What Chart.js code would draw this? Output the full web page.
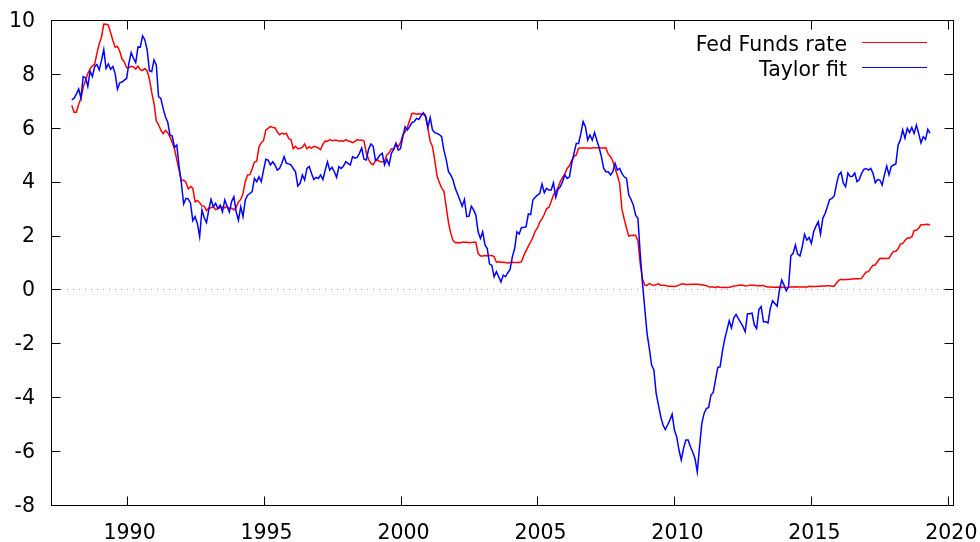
<!DOCTYPE html>
<html><head><meta charset="utf-8">
<script src="https://cdn.jsdelivr.net/npm/chart.js@4.4.1/dist/chart.umd.min.js"></script>
<style>html,body{margin:0;padding:0;background:#fff}#wrap{width:980px;height:542px}</style>
</head><body><div id="wrap"><canvas id="c" width="980" height="542"></canvas></div>
<script>
// Monthly series, January 1988 .. May 2019
const startYear = 1988;
const seriesNames = ['Fed Funds rate', 'Taylor fit'];
const seriesColors = ['#ff0000', '#0000ff'];

const fedFunds = [
 6.83,6.58,6.58,6.87,7.09,7.51,7.75,8.01,8.19,8.30,8.35,8.76,
 9.12,9.36,9.85,9.84,9.81,9.53,9.24,8.99,9.02,8.84,8.55,8.45,
 8.23,8.24,8.28,8.26,8.18,8.29,8.15,8.13,8.20,8.11,7.81,7.31,
 6.91,6.25,6.12,5.91,5.78,5.90,5.82,5.66,5.45,5.21,4.81,4.43,
 4.03,4.06,3.98,3.73,3.82,3.76,3.25,3.30,3.22,3.10,3.09,2.92,
 3.02,3.03,3.07,2.96,3.00,3.04,3.06,3.03,3.09,2.99,3.02,2.96,
 3.05,3.25,3.34,3.56,4.01,4.25,4.26,4.47,4.73,4.76,5.29,5.45,
 5.53,5.92,5.98,6.05,6.01,6.00,5.85,5.74,5.80,5.76,5.80,5.60,
 5.56,5.22,5.31,5.22,5.24,5.27,5.40,5.22,5.30,5.24,5.31,5.29,
 5.25,5.19,5.39,5.51,5.50,5.56,5.52,5.54,5.54,5.50,5.52,5.50,
 5.56,5.51,5.49,5.45,5.49,5.56,5.54,5.55,5.51,5.07,4.83,4.68,
 4.63,4.76,4.81,4.74,4.74,4.76,4.99,5.07,5.22,5.20,5.42,5.30,
 5.45,5.73,5.85,6.02,6.27,6.53,6.54,6.50,6.52,6.51,6.51,6.40,
 5.98,5.49,5.31,4.80,4.21,3.97,3.77,3.65,3.07,2.49,2.09,1.82,
 1.73,1.74,1.73,1.75,1.75,1.75,1.73,1.74,1.75,1.75,1.34,1.24,
 1.24,1.26,1.25,1.26,1.26,1.22,1.01,1.03,1.01,1.01,1.00,0.98,
 1.00,1.01,1.00,1.00,1.00,1.03,1.26,1.43,1.61,1.76,1.93,2.16,
 2.28,2.50,2.63,2.79,3.00,3.04,3.26,3.50,3.62,3.78,4.00,4.16,
 4.29,4.49,4.59,4.79,4.94,4.99,5.24,5.25,5.25,5.25,5.25,5.24,
 5.25,5.26,5.26,5.25,5.25,5.25,5.26,5.02,4.94,4.76,4.49,4.24,
 3.94,2.98,2.61,2.28,1.98,2.00,2.01,2.00,1.81,0.97,0.39,0.16,
 0.15,0.22,0.18,0.15,0.18,0.21,0.16,0.16,0.15,0.12,0.12,0.12,
 0.11,0.13,0.16,0.20,0.20,0.18,0.18,0.19,0.19,0.19,0.19,0.18,
 0.17,0.16,0.14,0.10,0.09,0.09,0.07,0.10,0.08,0.07,0.08,0.07,
 0.08,0.10,0.13,0.14,0.16,0.16,0.16,0.13,0.14,0.16,0.16,0.16,
 0.14,0.15,0.14,0.15,0.11,0.09,0.09,0.08,0.08,0.09,0.08,0.09,
 0.07,0.07,0.08,0.09,0.09,0.10,0.09,0.09,0.09,0.09,0.09,0.12,
 0.11,0.11,0.11,0.12,0.12,0.13,0.13,0.14,0.14,0.12,0.12,0.24,
 0.34,0.38,0.36,0.37,0.37,0.38,0.39,0.40,0.40,0.40,0.41,0.54,
 0.65,0.66,0.79,0.90,0.91,1.04,1.15,1.16,1.15,1.15,1.16,1.30,
 1.41,1.42,1.51,1.69,1.70,1.82,1.91,1.91,1.95,2.19,2.20,2.27,
 2.40,2.40,2.41,2.42,2.39
];

const taylorFit = [
 7.03,7.10,7.25,7.44,7.10,7.90,7.86,7.53,8.10,7.90,8.27,8.35,
 8.15,8.50,8.90,8.20,8.37,8.17,8.27,8.00,7.43,7.67,7.70,7.77,
 7.83,8.39,8.79,8.58,8.42,9.00,8.99,9.41,9.26,8.89,8.12,8.08,
 8.52,8.33,7.16,7.09,6.72,6.41,6.22,5.73,5.69,5.27,5.36,4.55,
 3.94,3.17,3.38,3.36,3.20,2.55,2.70,2.45,1.96,2.95,2.66,2.48,
 2.95,3.34,3.07,3.20,3.00,3.13,2.88,3.32,3.10,2.88,3.26,3.44,
 2.88,2.57,3.07,2.70,3.32,3.50,3.56,3.63,4.12,4.00,4.18,4.00,
 4.43,4.83,4.80,4.62,4.74,4.62,4.43,4.49,4.68,4.93,4.68,4.66,
 4.62,4.49,4.37,3.84,3.94,4.25,4.06,4.49,4.56,4.31,4.08,4.16,
 4.12,4.25,4.08,4.43,4.74,4.43,4.53,4.37,4.16,4.56,4.49,4.58,
 4.74,4.68,4.62,4.93,4.87,4.90,5.05,5.25,4.83,4.80,5.20,5.40,
 5.32,4.80,4.86,4.99,5.05,4.62,4.83,4.62,5.05,5.20,5.42,5.17,
 5.23,5.67,6.04,5.92,6.04,6.19,6.23,6.35,6.31,6.44,6.56,6.44,
 6.02,6.38,5.92,5.82,5.79,5.75,5.67,5.17,4.83,4.37,4.25,4.06,
 3.75,3.54,3.32,3.09,3.34,2.70,2.72,3.09,2.95,2.76,2.14,1.89,
 2.14,1.65,1.52,0.94,0.90,0.47,0.66,0.47,0.28,0.53,0.47,0.62,
 0.74,1.21,1.52,2.14,2.06,2.30,2.30,2.33,2.80,2.78,3.32,3.42,
 3.50,3.56,3.91,3.59,3.75,3.69,3.69,3.96,3.42,3.72,3.81,4.00,
 4.25,4.12,4.18,4.68,5.05,5.42,5.42,5.79,6.23,6.04,5.54,5.73,
 5.54,5.82,5.54,5.27,4.93,4.49,4.37,4.37,4.25,4.37,4.68,4.43,
 4.49,4.31,4.18,4.12,3.50,3.34,3.13,2.76,2.64,1.34,0.23,-0.70,
 -1.63,-2.19,-2.81,-2.99,-3.86,-4.29,-4.72,-5.03,-5.20,-5.03,-4.85,-4.63,
 -5.22,-5.47,-5.96,-6.33,-5.90,-5.59,-5.59,-5.84,-6.03,-6.27,-6.77,-5.84,
 -4.97,-4.60,-4.42,-4.38,-3.92,-3.83,-3.36,-2.89,-2.87,-2.31,-1.85,-1.51,
 -1.16,-1.43,-1.05,-0.93,-1.08,-1.22,-1.37,-1.57,-0.90,-0.90,-0.88,-1.32,
 -1.45,-0.75,-0.64,-1.20,-1.20,-1.24,-0.70,-0.42,-0.52,-0.62,-0.02,0.35,
 0.16,-0.05,0.10,1.24,1.34,1.65,1.31,1.24,1.58,2.05,1.83,1.93,
 1.71,2.14,2.35,2.51,2.05,2.64,2.82,3.07,3.34,3.38,3.47,3.90,
 4.25,4.35,3.94,3.81,4.32,4.19,4.20,4.32,4.00,4.08,4.31,4.46,
 4.49,4.43,4.49,4.31,3.96,4.08,4.06,3.87,4.25,4.58,4.25,4.56,
 4.62,4.66,5.36,5.55,5.92,5.61,5.98,5.82,6.01,5.79,6.10,5.79,
 5.44,5.67,5.57,5.94,5.79
];

const xTicks = [1990, 1995, 2000, 2005, 2010, 2015, 2020];
const yTicks = [-8, -6, -4, -2, 0, 2, 4, 6, 8, 10];
const xRange = [1987.24, 2020.17];
const yRange = [-8, 10];

const toPoints = arr => arr.map((v, i) => ({ x: startYear + i / 12, y: v }));

const FONT = "'DejaVu Sans', 'Liberation Sans', sans-serif";
Chart.defaults.font.family = FONT;
Chart.defaults.font.size = 20.5;
Chart.defaults.color = '#000';

const gnuplotFrame = {
  id: 'gnuplotFrame',
  beforeDatasetsDraw(chart) {
    const { ctx, chartArea: a, scales } = chart;
    const y0 = Math.round(scales.y.getPixelForValue(0)) + 0.5;
    ctx.save();
    ctx.strokeStyle = '#a0a0a0';
    ctx.lineWidth = 1;
    ctx.setLineDash([1, 5]);
    ctx.beginPath();
    ctx.moveTo(a.left + 4, y0);
    ctx.lineTo(a.right, y0);
    ctx.stroke();
    ctx.restore();
  },
  afterDatasetsDraw(chart) {
    const { ctx, chartArea: a, scales } = chart;
    const L = Math.round(a.left) + 0.5, R = Math.round(a.right) + 0.5;
    const T = Math.round(a.top) + 0.5, B = Math.round(a.bottom) + 0.5;
    const tl = 9;
    ctx.save();
    ctx.strokeStyle = '#000';
    ctx.lineWidth = 1;
    ctx.beginPath();
    xTicks.forEach(v => {
      const px = Math.round(scales.x.getPixelForValue(v)) + 0.5;
      ctx.moveTo(px, B); ctx.lineTo(px, B - tl);
      ctx.moveTo(px, T); ctx.lineTo(px, T + tl);
    });
    yTicks.forEach(v => {
      const py = Math.round(scales.y.getPixelForValue(v)) + 0.5;
      ctx.moveTo(L, py); ctx.lineTo(L + tl, py);
      ctx.moveTo(R, py); ctx.lineTo(R - tl, py);
    });
    ctx.stroke();
    ctx.strokeRect(L, T, R - L, B - T);
    // key (legend), right-aligned text with line sample, gnuplot style
    ctx.font = '20.5px ' + FONT;
    ctx.textAlign = 'right';
    ctx.textBaseline = 'alphabetic';
    chart.data.datasets.forEach((ds, i) => {
      const yy = 42 + i * 25;
      ctx.fillStyle = '#000';
      ctx.fillText(ds.label, 847, yy + 8.5);
      ctx.strokeStyle = ds.borderColor;
      ctx.lineWidth = 1.2;
      ctx.beginPath();
      ctx.moveTo(862, yy + 0.5);
      ctx.lineTo(927, yy + 0.5);
      ctx.stroke();
    });
    ctx.restore();
  }
};

new Chart(document.getElementById('c'), {
  type: 'line',
  data: {
    datasets: [
      { label: seriesNames[0], data: toPoints(fedFunds), borderColor: seriesColors[0],
        borderWidth: 1.5, pointRadius: 0, tension: 0, fill: false, order: 2 },
      { label: seriesNames[1], data: toPoints(taylorFit), borderColor: seriesColors[1],
        borderWidth: 1.5, pointRadius: 0, tension: 0, fill: false, order: 1 }
    ]
  },
  options: {
    responsive: false,
    animation: false,
    devicePixelRatio: 1,
    layout: { padding: { left: 0, right: 27, top: 20, bottom: 0 } },
    plugins: { legend: { display: false }, tooltip: { enabled: false } },
    scales: {
      x: {
        type: 'linear', min: xRange[0], max: xRange[1], offset: false,
        grid: { display: false, drawTicks: false },
        border: { display: false },
        afterBuildTicks: s => { s.ticks = xTicks.map(v => ({ value: v })); },
        afterFit: s => { s.height = 37; s.paddingLeft = 0; s.paddingRight = 0; },
        ticks: { padding: 16, labelOffset: 3, maxRotation: 0, autoSkip: false, callback: v => String(v) }
      },
      y: {
        type: 'linear', min: yRange[0], max: yRange[1],
        grid: { display: false, drawTicks: false },
        border: { display: false },
        afterBuildTicks: s => { s.ticks = yTicks.map(v => ({ value: v })); },
        afterFit: s => { s.width = 51; s.paddingTop = 0; s.paddingBottom = 0; },
        ticks: { padding: 16, labelOffset: 1.5, autoSkip: false, callback: v => String(v) }
      }
    }
  },
  plugins: [gnuplotFrame]
});
</script>
</body></html>
